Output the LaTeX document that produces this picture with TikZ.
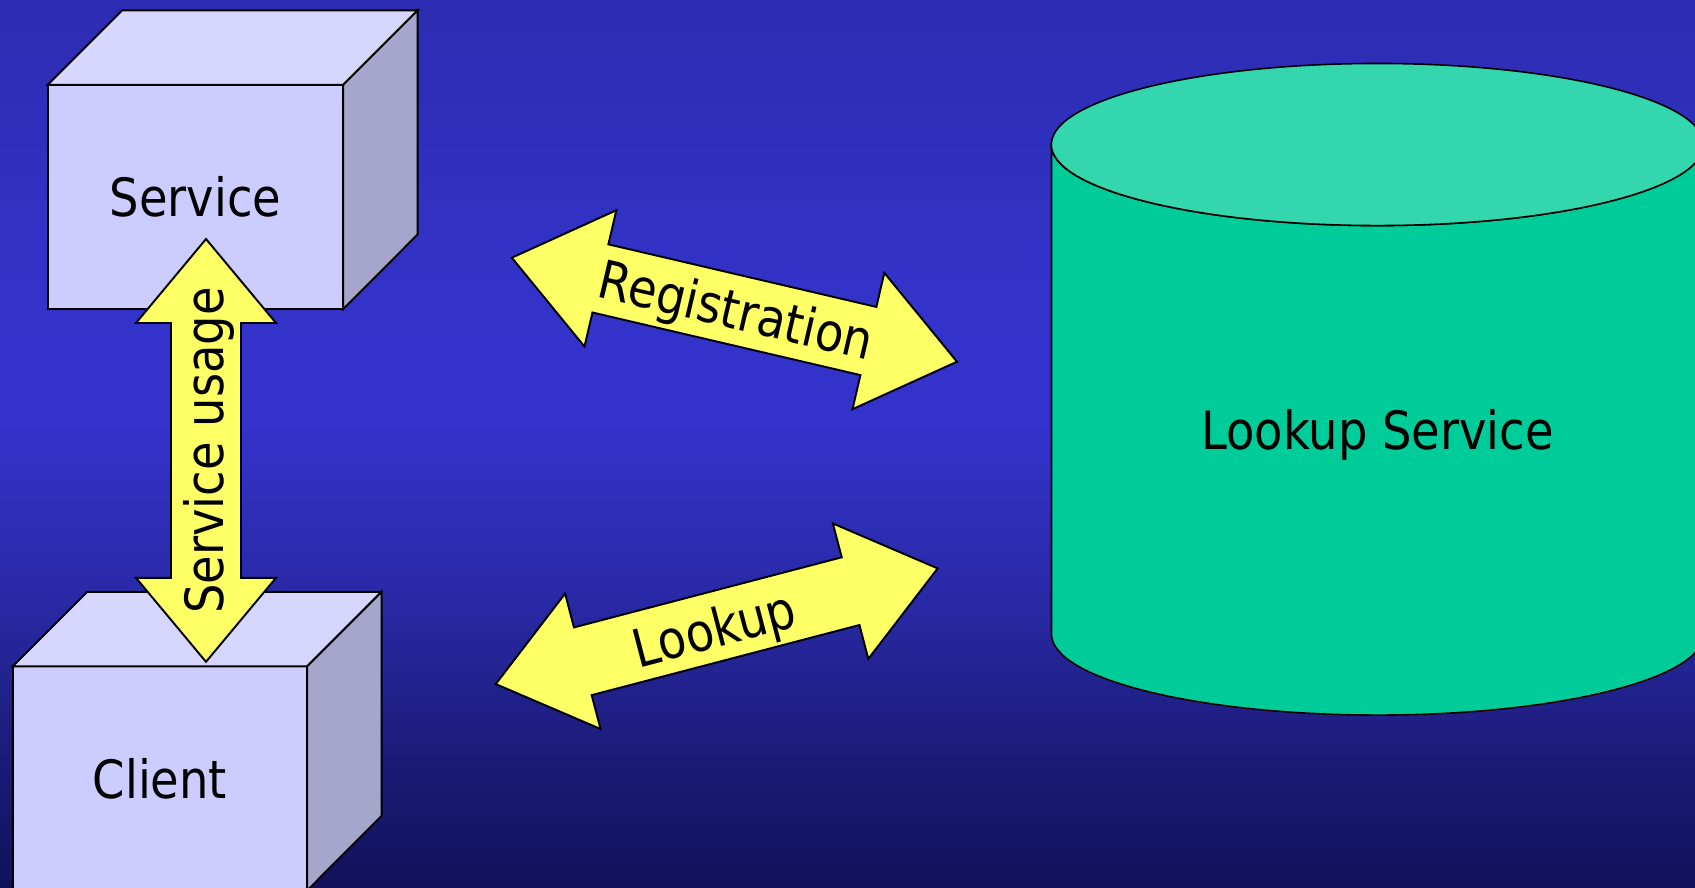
\documentclass[tikz,border=0pt]{standalone}
\usepackage{fontspec}
\setmainfont{DejaVu Sans}[FakeStretch=0.88]

\definecolor{bgtop}{HTML}{2C2CB2}
\definecolor{bgupper}{HTML}{3333CA}
\definecolor{bgmid}{HTML}{3333CC}
\definecolor{bgdim}{HTML}{2929A6}
\definecolor{bglow}{HTML}{1B1B78}
\definecolor{bgbot}{HTML}{11115A}
\definecolor{cubefront}{HTML}{CCCCFF}
\definecolor{cubetop}{HTML}{D6D6FF}
\definecolor{cubeside}{HTML}{A6A6CC}
\definecolor{arrowyellow}{HTML}{FFFF66}
\definecolor{cylbody}{HTML}{00CC99}
\definecolor{cyltop}{HTML}{33D6AD}

\pgfdeclareverticalshading{backdrop}{100bp}{color(0bp)=(bgbot); color(25bp)=(bgbot); color(32.2bp)=(bglow); color(41.2bp)=(bgdim); color(51.3bp)=(bgmid); color(58.1bp)=(bgupper); color(75bp)=(bgtop); color(100bp)=(bgtop)}

\tikzset{
	labeltext/.style={inner sep=0pt, outer sep=0pt, font={\fontsize{15pt}{18pt}\selectfont}},
	cubefront/.style={labeltext, draw, line width=0.55pt, fill=cubefront, minimum height=2.24cm},
	cubetop/.style={draw, line width=0.55pt, fill=cubetop},
	cubeside/.style={draw, line width=0.55pt, fill=cubeside},
	fatarrow/.style={draw, line width=0.55pt, fill=arrowyellow},
	cylbody/.style={draw, line width=0.45pt, fill=cylbody},
	cyltop/.style={draw, line width=0.45pt, fill=cyltop}
}

\begin{document}
\begin{tikzpicture}[x=0.01cm, y=-0.01cm, line join=miter]
		% Background:
		\useasboundingbox (0,0) rectangle (1695,887);
		\shade[shading=backdrop] (0,0) rectangle (1695,887);
		\clip (0,0) rectangle (1695,887);

		% Lookup service cylinder:
		\draw[cylbody] (1051.5,144.5) -- (1051.5,634) arc[start angle=180, end angle=360, x radius=3.26cm, y radius=0.81cm] -- (1703.5,144.5) arc[start angle=0, end angle=-180, x radius=3.26cm, y radius=0.81cm] -- cycle;
		\draw[cyltop] (1377.5,144.5) ellipse [x radius=3.26cm, y radius=0.81cm];
		\node[labeltext] (lookupservice) at (1377.5,435) {Lookup Service};

		% Service cube:
		\node[cubefront, minimum width=2.953cm] (service) at (195.4,197) {Service};
		\draw[cubetop] (service.north west) -- ++(74.5,-74.5) -- ++(295.3,0) -- (service.north east) -- cycle;
		\draw[cubeside] (service.north east) -- ++(74.5,-74.5) -- ++(0,224) -- (service.south east) -- cycle;

		% Client cube:
		\node[cubefront, minimum width=2.943cm] (client) at (159.9,778.4) {Client};
		\draw[cubetop] (client.north west) -- ++(74.5,-74.5) -- ++(294.3,0) -- (client.north east) -- cycle;
		\draw[cubeside] (client.north east) -- ++(74.5,-74.5) -- ++(0,224) -- (client.south east) -- cycle;

		% Service usage arrow:
		\begin{scope}[shift={(206,450.4)}, rotate=90]
			\draw[fatarrow] (-211.4,0) -- (-127.4,-70) -- (-127.4,-35) -- (127.4,-35) -- (127.4,-70) -- (211.4,0) -- (127.4,70) -- (127.4,35) -- (-127.4,35) -- (-127.4,70) -- cycle;
		\end{scope}
		\node[labeltext, rotate=90] (usage) at (209,450.4) {Service usage};

		% Registration arrow:
		\begin{scope}[shift={(734.4,309.7)}, rotate=-13.15]
			\draw[fatarrow] (-228.6,0) -- (-137.6,-70) -- (-137.6,-35) -- (137.6,-35) -- (137.6,-70) -- (228.6,0) -- (137.6,70) -- (137.6,35) -- (-137.6,35) -- (-137.6,70) -- cycle;
		\end{scope}
		\node[labeltext, rotate=-13.15] (registration) at (735.5,314.5) {Registration};

		% Lookup arrow:
		\begin{scope}[shift={(716.7,626.2)}, rotate=14.67]
			\draw[fatarrow] (-228.4,0) -- (-138.4,-70) -- (-138.4,-35) -- (138.4,-35) -- (138.4,-70) -- (228.4,0) -- (138.4,70) -- (138.4,35) -- (-138.4,35) -- (-138.4,70) -- cycle;
		\end{scope}
		\node[labeltext, rotate=14.67] (lookup) at (715,633) {Lookup};
	\end{tikzpicture}
\end{document}
